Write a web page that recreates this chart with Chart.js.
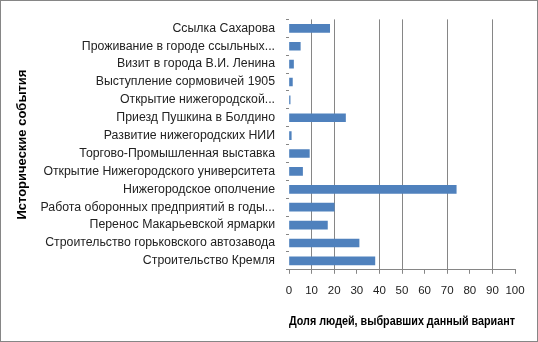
<!DOCTYPE html>
<html>
<head>
<meta charset="utf-8">
<script src="https://cdn.jsdelivr.net/npm/chart.js@4"></script>
<style>
    body { margin: 0; background: #fff; }
    #wrap { width: 536px; height: 340px; border: 1px solid #868686; position: relative; }
</style>
</head>
<body>
<div id="wrap"><canvas id="eventsChart"></canvas></div>
<script>
// Events (top to bottom, as in the picture)
const events = [
    'Ссылка Сахарова',
    'Проживание в городе ссыльных...',
    'Визит в города В.И. Ленина',
    'Выступление сормовичей 1905',
    'Открытие нижегородской...',
    'Приезд Пушкина в Болдино',
    'Развитие нижегородских НИИ',
    'Торгово-Промышленная выставка',
    'Открытие Нижегородского университета',
    'Нижегородское ополчение',
    'Работа оборонных предприятий в годы...',
    'Перенос Макарьевской ярмарки',
    'Строительство горьковского автозавода',
    'Строительство Кремля'
];
const shares = [18, 5, 2, 1.5, 0.5, 25, 1, 9, 6, 74, 20, 17, 31, 38];

const xTicks = [0, 10, 20, 30, 40, 50, 60, 70, 80, 90, 100];
const hiddenGrid = [0, 30, 60, 80, 100];

const ctx = document.getElementById('eventsChart').getContext('2d');
new Chart(ctx, {
    type: 'bar',
    data: {
        labels: events,
        datasets: [{
            data: shares,
            backgroundColor: '#4f81bd',
            barThickness: 8
        }]
    },
    options: {
        indexAxis: 'y',
        responsive: true,
        maintainAspectRatio: false,
        animation: false,
        layout: { padding: { top: 8, right: 22, bottom: 8, left: 14 } },
        plugins: {
            legend: { display: false },
            tooltip: { enabled: false }
        },
        scales: {
            x: {
                min: 0,
                max: 100,
                afterBuildTicks: scale => { scale.ticks = xTicks.map(v => ({ value: v })); },
                ticks: {
                    color: '#222',
                    font: { family: 'Liberation Sans', size: 11.5 },
                    padding: 10,
                    maxRotation: 0
                },
                grid: {
                    color: c => hiddenGrid.includes(c.tick && c.tick.value) ? 'rgba(0,0,0,0)' : '#868686',
                    tickColor: '#868686',
                    tickLength: 4
                },
                border: { display: true, color: '#868686' },
                title: {
                    display: true,
                    text: 'Доля людей, выбравших данный вариант',
                    color: '#000',
                    font: { family: 'Liberation Sans', size: 12, weight: 'bold' },
                    padding: { top: 7 }
                }
            },
            y: {
                afterFit: scale => { scale.width = 274; },
                ticks: {
                    color: '#222',
                    font: { family: 'Liberation Sans', size: 12.3 },
                    padding: 11,
                    autoSkip: false
                },
                grid: {
                    offset: true,
                    drawOnChartArea: false,
                    tickColor: '#868686',
                    tickLength: 3
                },
                border: { display: false },
                title: {
                    display: true,
                    text: 'Исторические события',
                    color: '#000',
                    font: { family: 'Liberation Sans', size: 13, weight: 'bold' },
                    padding: 0
                }
            }
        }
    }
});
</script>
</body>
</html>
